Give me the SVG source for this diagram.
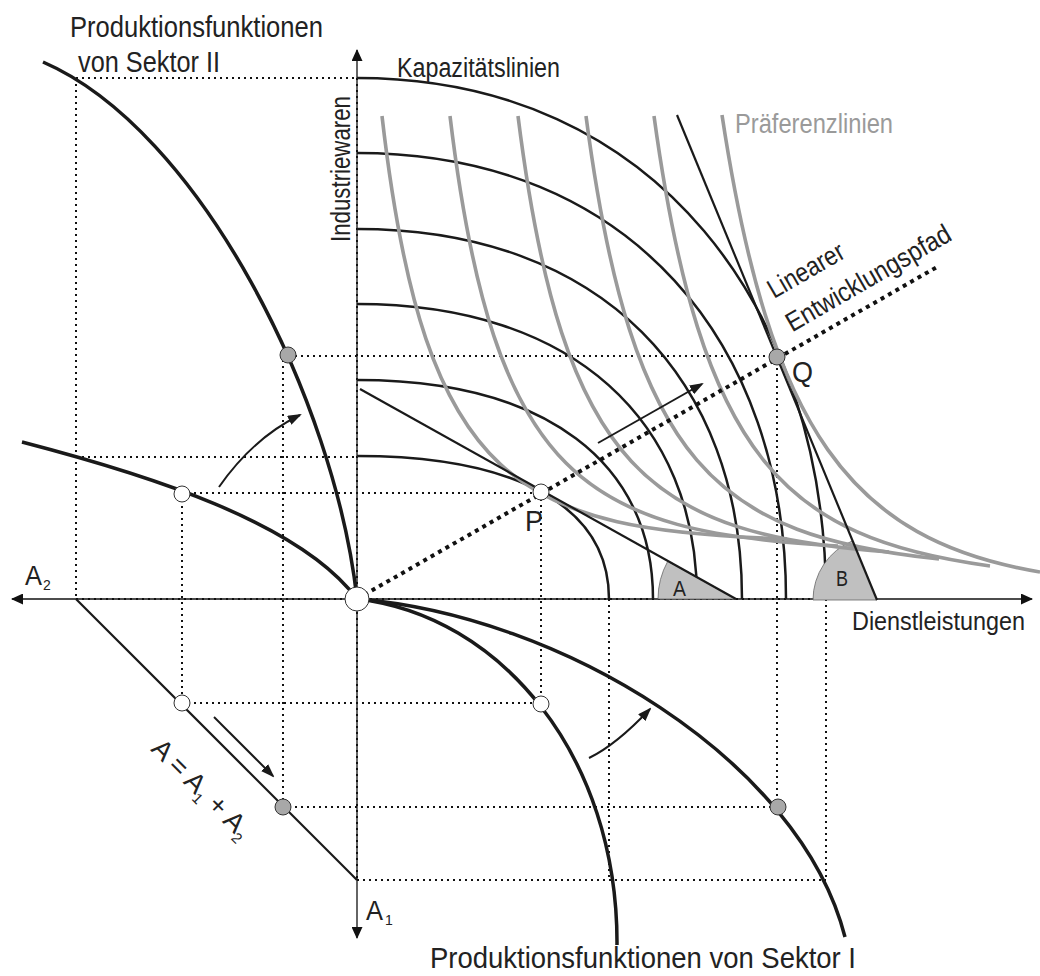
<svg xmlns="http://www.w3.org/2000/svg" width="1040" height="976" viewBox="0 0 1040 976">
<style>
text{font-family:"Liberation Sans",Arial,sans-serif;fill:#222}
.dot{fill:none;stroke:#111;stroke-width:2;stroke-dasharray:2 4}
.ax{fill:none;stroke:#111;stroke-width:1.3;marker-end:url(#axh)}
.prod{fill:none;stroke:#1a1a1a;stroke-width:3.5}
.cap{fill:none;stroke:#1a1a1a;stroke-width:2.5}
.pref{fill:none;stroke:#9a9a9a;stroke-width:3.6}
.tan{fill:none;stroke:#1a1a1a;stroke-width:2.2}
.arr{fill:none;stroke:#1a1a1a;stroke-width:2;marker-end:url(#ah)}
.path{fill:none;stroke:#111;stroke-width:4;stroke-dasharray:4 4.5}
.pw{fill:#fff;stroke:#333;stroke-width:1}
.pg{fill:#a8a8a8;stroke:#333;stroke-width:1}
.ang{fill:#c0c0c0;stroke:#666;stroke-width:0.8}
</style>
<defs>
<marker id="ah" viewBox="0 0 14 10" refX="12" refY="5" markerWidth="14" markerHeight="10" markerUnits="userSpaceOnUse" orient="auto"><path d="M0,0 L14,5 L0,10 Z" fill="#1a1a1a"/></marker>
<marker id="axh" viewBox="0 0 12 11" refX="11" refY="5.5" markerWidth="12" markerHeight="11" markerUnits="userSpaceOnUse" orient="auto"><path d="M0,0 L12,5.5 L0,11 Z" fill="#111"/></marker>
</defs>

<g id="guides">
<line class="dot" x1="76" y1="78" x2="357" y2="78"/>
<line class="dot" x1="76" y1="78" x2="76" y2="599"/>
<line class="dot" x1="76" y1="457" x2="357" y2="457"/>
<line class="dot" x1="182" y1="493" x2="541" y2="493"/>
<line class="dot" x1="289" y1="356" x2="777" y2="356"/>
<line class="dot" x1="182" y1="494" x2="182" y2="703"/>
<line class="dot" x1="283" y1="360" x2="283" y2="807"/>
<line class="dot" x1="182" y1="703" x2="541" y2="703"/>
<line class="dot" x1="283" y1="807" x2="778" y2="807"/>
<line class="dot" x1="357" y1="880" x2="826" y2="880"/>
<line class="dot" x1="541" y1="493" x2="541" y2="704"/>
<line class="dot" x1="609" y1="599" x2="609" y2="880"/>
<line class="dot" x1="777" y1="356" x2="777" y2="807"/>
<line class="dot" x1="826" y1="599" x2="826" y2="880"/>
<line class="dot" x1="357" y1="78" x2="357" y2="880"/>
<line class="dot" x1="76" y1="599" x2="826" y2="599"/>
</g>

<g id="axes">
<line class="ax" x1="357" y1="599" x2="12" y2="599"/>
<line class="ax" x1="357" y1="599" x2="1032" y2="599"/>
<line class="ax" x1="357" y1="599" x2="357" y2="50"/>
<line class="ax" x1="357" y1="599" x2="357" y2="938"/>
</g>

<g id="kapazitaetslinien">
<path class="cap" d="M357,456 C518.3,456 609,507.5 609,599"/>
<path class="cap" d="M357,380 C546.4,380 653,463.2 653,599"/>
<path class="cap" d="M357,304 C574.6,304 697,422 697,599"/>
<path class="cap" d="M357,229 C603.4,229 742,380.7 742,599"/>
<path class="cap" d="M357,153 C631.6,153 786,344.8 786,599"/>
<path class="cap" d="M357,78 C657.2,78 826,312.4 826,599"/>
</g>

<g id="winkel">
<path class="ang" d="M736,599 L658,599 A78,78 0 0 1 667.8,561.2 Z"/>
<path class="ang" d="M877,600 L813,600 A64,64 0 0 1 852.6,540.8 Z"/>
<text x="673" y="596" font-size="22" textLength="13" lengthAdjust="spacingAndGlyphs">A</text>
<text x="836" y="586" font-size="22" textLength="12" lengthAdjust="spacingAndGlyphs">B</text>
</g>

<g id="praeferenzlinien">
<path class="pref" d="M382,116 C425,490 520,530 787,539"/>
<path class="pref" d="M450,116 C494,482 586,532 838,546"/>
<path class="pref" d="M518,116 C563,474 652,534 889,552"/>
<path class="pref" d="M586,116 C632,466 718,536 939,559"/>
<path class="pref" d="M654,116 C701,458 784,538 990,566"/>
<path class="pref" d="M722,115 C770,430 850,540 1040,572"/>
</g>

<g id="preisgeraden">
<line class="tan" x1="360" y1="389" x2="736" y2="599"/>
<line class="tan" x1="677" y1="115" x2="877" y2="600"/>
</g>

<g id="sektor2">
<path class="prod" d="M43,62 C200,130 335,400 357,599"/>
<path class="prod" d="M22,442 C145,474 300,522 357,599"/>
</g>

<g id="sektor1">
<path class="prod" d="M357,599 C500,615 618,755 617,945"/>
<path class="prod" d="M357,599 C560,615 800,760 845,937"/>
</g>

<g id="arbeit">
<line x1="76" y1="599" x2="357" y2="880" stroke="#1a1a1a" stroke-width="2.2"/>
</g>

<g id="entwicklungspfad">
<line class="path" x1="357" y1="599" x2="937" y2="267"/>
</g>

<g id="pfeile">
<path class="arr" d="M219,487 Q253,438 300,415"/>
<path class="arr" d="M589,758 Q616,745 650,709"/>
<line class="arr" x1="598" y1="443" x2="702" y2="384"/>
<line class="arr" x1="214" y1="717" x2="273" y2="776"/>
</g>

<g id="punkte">
<circle class="pw" cx="357" cy="599" r="12"/>
<circle class="pw" cx="182" cy="494" r="8"/>
<circle class="pw" cx="541" cy="492" r="8"/>
<circle class="pw" cx="182" cy="703" r="8"/>
<circle class="pw" cx="541" cy="704" r="8"/>
<circle class="pg" cx="288" cy="355" r="8"/>
<circle class="pg" cx="777" cy="357" r="8"/>
<circle class="pg" cx="283" cy="807" r="8"/>
<circle class="pg" cx="778" cy="807" r="8"/>
</g>

<g id="labels">
<text x="70" y="37" font-size="29" textLength="253" lengthAdjust="spacingAndGlyphs">Produktionsfunktionen</text>
<text x="78" y="72" font-size="29" textLength="142" lengthAdjust="spacingAndGlyphs">von Sektor II</text>
<text x="397" y="77" font-size="27" textLength="163" lengthAdjust="spacingAndGlyphs">Kapazitätslinien</text>
<text transform="translate(350,242) rotate(-90)" font-size="27" textLength="146" lengthAdjust="spacingAndGlyphs">Industriewaren</text>
<text x="735" y="133" font-size="27" textLength="158" lengthAdjust="spacingAndGlyphs" style="fill:#9a9a9a">Präferenzlinien</text>
<g transform="translate(774,299) rotate(-30)">
<text x="0" y="0" font-size="27" textLength="84" lengthAdjust="spacingAndGlyphs">Linearer</text>
<text x="-1" y="38" font-size="27" textLength="186" lengthAdjust="spacingAndGlyphs">Entwicklungspfad</text>
</g>
<text x="792" y="382" font-size="30" textLength="21" lengthAdjust="spacingAndGlyphs">Q</text>
<text x="525" y="531" font-size="30" textLength="18" lengthAdjust="spacingAndGlyphs">P</text>
<text x="25" y="585" font-size="28" textLength="17" lengthAdjust="spacingAndGlyphs">A</text>
<text x="43" y="590" font-size="14">2</text>
<text x="366" y="920" font-size="28" textLength="17" lengthAdjust="spacingAndGlyphs">A</text>
<text x="385" y="925" font-size="14">1</text>
<text x="852" y="630" font-size="25" textLength="173" lengthAdjust="spacingAndGlyphs">Dienstleistungen</text>
<text x="430" y="968" font-size="29" textLength="426" lengthAdjust="spacingAndGlyphs">Produktionsfunktionen von Sektor I</text>
<text transform="translate(150,750) rotate(45)" font-size="27">A = A<tspan font-size="15" dy="6">1</tspan><tspan dy="-6"> + A</tspan><tspan font-size="15" dy="6">2</tspan></text>
</g>
</svg>
